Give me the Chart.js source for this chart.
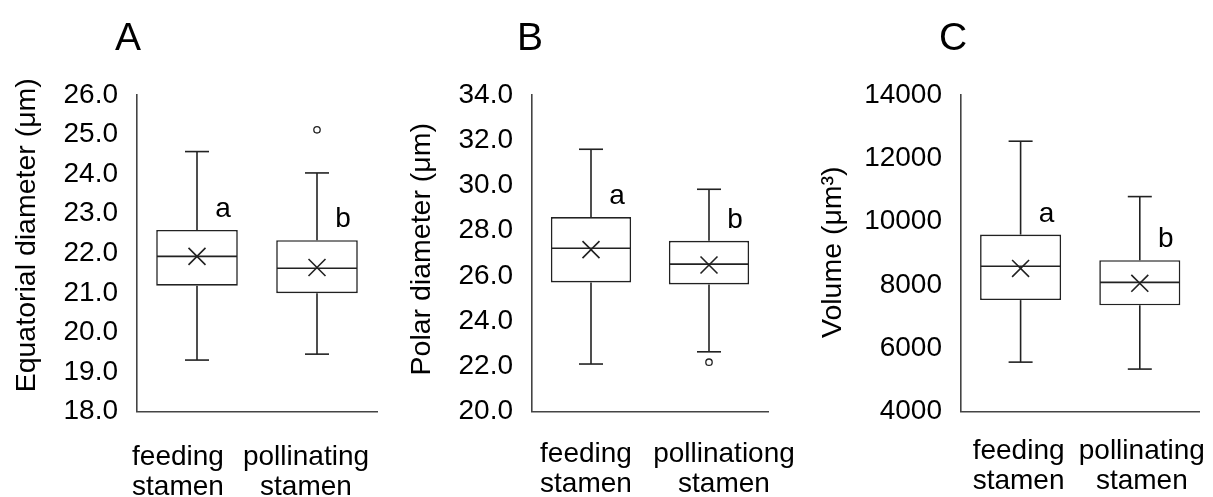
<!DOCTYPE html>
<html>
<head>
<meta charset="utf-8">
<script src="https://cdn.jsdelivr.net/npm/chart.js@4.4.1/dist/chart.umd.min.js"></script>
<style>
  html, body { margin: 0; padding: 0; background: #fff; }
  #wrap { position: relative; width: 1213px; height: 497px; overflow: hidden; }
  canvas { position: absolute; top: 0; }
</style>
</head>
<body>
<div id="wrap">
  <canvas id="chartA" width="404" height="497" style="left:0"></canvas>
  <canvas id="chartB" width="404" height="497" style="left:404px"></canvas>
  <canvas id="chartC" width="405" height="497" style="left:808px"></canvas>
</div>
<script>
// values, order: [feeding, pollinating]
const labelsAC = [['feeding', 'stamen'], ['pollinating', 'stamen']]
const labelsB = [['feeding', 'stamen'], ['pollinationg', 'stamen']]
const letters = ['a', 'b']

const eqMin = [19.30, 19.45]
const eqQ1 = [21.18, 20.99]
const eqMedian = [21.92, 21.62]
const eqQ3 = [22.59, 22.33]
const eqMax = [24.57, 24.03]
const eqMean = [21.92, 21.64]
const eqOutliers = [null, 25.12]

const polMin = [22.10, 22.64]
const polQ1 = [25.71, 25.62]
const polMedian = [27.22, 26.52]
const polQ3 = [28.60, 27.55]
const polMax = [31.60, 29.83]
const polMean = [27.16, 26.48]
const polOutliers = [null, 22.18]

const volMin = [5560, 5340]
const volQ1 = [7520, 7355]
const volMedian = [8590, 8080]
const volQ3 = [9590, 8780]
const volMax = [12540, 10790]
const volMean = [8520, 8050]
const volOutliers = [null, null]

const FONT = "'Liberation Sans', Arial, sans-serif"
const INK = '#222'
const AXIS = '#444'

// whiskers, medians, group letters, category labels, axis title and panel letter
const boxExtras = {
  id: 'boxExtras',
  afterDatasetsDraw (chart, args, opts) {
    const { ctx, chartArea } = chart
    const y = chart.scales.y
    const xs = chart.scales.x
    const py = (v) => y.getPixelForValue(v)
    const line = (x1, y1, x2, y2) => {
      ctx.beginPath()
      ctx.moveTo(x1, y1)
      ctx.lineTo(x2, y2)
      ctx.stroke()
    }
    ctx.save()
    ctx.strokeStyle = INK
    ctx.lineWidth = 1.6
    ctx.fillStyle = '#000'
    ctx.textAlign = 'center'
    ctx.textBaseline = 'alphabetic'
    chart.getDatasetMeta(0).data.forEach((bar, i) => {
      const { x, width } = bar.getProps(['x', 'width'], true)
      const half = width / 2 - 0.8
      line(x - half, py(opts.median[i]), x + half, py(opts.median[i]))
      line(x, py(opts.q3[i]), x, py(opts.max[i]))
      line(x - 12, py(opts.max[i]), x + 12, py(opts.max[i]))
      line(x, py(opts.q1[i]), x, py(opts.min[i]))
      line(x - 12, py(opts.min[i]), x + 12, py(opts.min[i]))
      ctx.font = '28px ' + FONT
      ctx.fillText(letters[i], x + 26, py(opts.q3[i]) - 13)
    })
    // category labels, two lines each
    ctx.font = '28px ' + FONT
    chart.data.labels.forEach((lines, i) => {
      const cx = xs.getPixelForValue(i) + opts.labelShift[i]
      lines.forEach((t, j) => {
        ctx.fillText(t, cx, chartArea.bottom + opts.labelDrop + j * 30)
      })
    })
    ctx.font = '39px ' + FONT
    ctx.fillText(opts.panel, chartArea.left + opts.panelDx, 50)
    // rotated y axis title
    ctx.translate(opts.titleX, (chartArea.top + chartArea.bottom) / 2 + opts.titleShift)
    ctx.rotate(-Math.PI / 2)
    ctx.font = '28.5px ' + FONT
    ctx.textBaseline = 'middle'
    ctx.fillText(opts.title, 0, 0)
    ctx.restore()
  }
}

function makePanel (id, s) {
  const tickFont = { family: FONT, size: 28 }
  return new Chart(document.getElementById(id), {
    type: 'bar',
    data: {
      labels: s.labels,
      datasets: [
        {
          data: s.q1.map((v, i) => [v, s.q3[i]]),
          backgroundColor: '#fff',
          borderColor: INK,
          borderWidth: 1.6,
          borderSkipped: false,
          barPercentage: 0.68,
          categoryPercentage: 1,
          order: 2
        },
        {
          type: 'line',
          data: s.mean,
          showLine: false,
          pointStyle: 'crossRot',
          pointRadius: 12,
          pointBorderColor: INK,
          pointBorderWidth: 1.6,
          order: 1
        },
        {
          type: 'line',
          data: s.outliers,
          showLine: false,
          pointStyle: 'circle',
          pointRadius: 3.2,
          pointBackgroundColor: '#fff',
          pointBorderColor: INK,
          pointBorderWidth: 1.3,
          order: 1
        }
      ]
    },
    options: {
      responsive: false,
      animation: false,
      events: [],
      layout: { padding: { top: 95, right: s.rightPad, left: 0, bottom: 0 } },
      plugins: {
        legend: { display: false },
        tooltip: { enabled: false },
        boxExtras: {
          median: s.median, q1: s.q1, q3: s.q3, min: s.min, max: s.max,
          panel: s.panel, panelDx: s.panelDx,
          labelShift: s.labelShift, labelDrop: s.labelDrop,
          title: s.title, titleX: s.titleX, titleShift: s.titleShift
        }
      },
      scales: {
        x: {
          grid: { display: false, drawTicks: false },
          border: { display: true, color: AXIS, width: 1.6 },
          ticks: { display: false },
          afterFit: (scale) => {
            scale.height = 85.5
            scale.paddingLeft = 0
            scale.paddingRight = 0
          }
        },
        y: {
          min: s.yMin,
          max: s.yMax,
          grid: { display: false, drawTicks: false },
          border: { display: true, color: AXIS, width: 1.6 },
          ticks: {
            stepSize: s.step,
            font: tickFont,
            color: '#000',
            padding: 19,
            callback: (v) => v.toFixed(s.decimals)
          },
          afterFit: (scale) => { scale.width = s.axisWidth }
        }
      }
    },
    plugins: [boxExtras]
  })
}

makePanel('chartA', {
  labels: labelsAC, panel: 'A', panelDx: -9, title: 'Equatorial diameter (μm)',
  yMin: 18, yMax: 26, step: 1, decimals: 1,
  min: eqMin, q1: eqQ1, median: eqMedian, q3: eqQ3, max: eqMax, mean: eqMean, outliers: eqOutliers,
  axisWidth: 137, rightPad: 27, titleX: 27, titleShift: -18, labelShift: [-19, -11], labelDrop: 53
})

makePanel('chartB', {
  labels: labelsB, panel: 'B', panelDx: -2, title: 'Polar diameter (μm)',
  yMin: 20, yMax: 34, step: 2, decimals: 1,
  min: polMin, q1: polQ1, median: polMedian, q3: polQ3, max: polMax, mean: polMean, outliers: polOutliers,
  axisWidth: 128, rightPad: 40, titleX: 18, titleShift: -4, labelShift: [-5, 15], labelDrop: 50
})

makePanel('chartC', {
  labels: labelsAC, panel: 'C', panelDx: -8, title: 'Volume (μm³)',
  yMin: 4000, yMax: 14000, step: 2000, decimals: 0,
  min: volMin, q1: volQ1, median: volMedian, q3: volQ3, max: volMax, mean: volMean, outliers: volOutliers,
  axisWidth: 153, rightPad: 7, titleX: 25, titleShift: -1, labelShift: [-2, 2], labelDrop: 47
})
</script>
</body>
</html>
